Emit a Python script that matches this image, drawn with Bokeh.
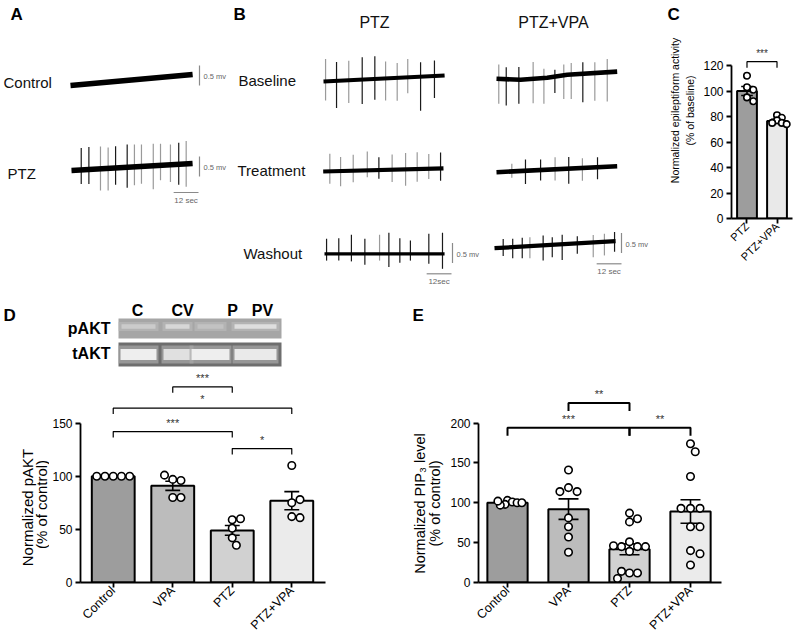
import math
import numpy as np
from bokeh.plotting import figure
from bokeh.models import Range1d, Label, FixedTicker
from bokeh.layouts import column, row
from bokeh.embed import file_html
from bokeh.resources import INLINE

FONT = "Liberation Sans"

# ---------------- Panels A / B : traces (time in s, voltage in mV) ----------------
a_ctrl_base_t = [0.0, 59.0]
a_ctrl_base_v = [0.0, 0.275]
a_ctrl_spk_t = []
a_ctrl_spk_up = []
a_ctrl_spk_dn = []
a_ctrl_spk_dark = []

a_ptz_base_t = [0.0, 58.5]
a_ptz_base_v = [0.0, 0.175]
a_ptz_spk_t = [4.7, 8.4, 14.0, 17.7, 21.3, 26.9, 30.4, 33.8, 39.5, 43.0, 47.8, 51.8, 55.4]
a_ptz_spk_up = [0.55, 0.56, 0.56, 0.52, 0.54, 0.57, 0.56, 0.55, 0.55, 0.54, 0.51, 0.54, 0.57]
a_ptz_spk_dn = [0.35, 0.36, 0.54, 0.55, 0.42, 0.51, 0.46, 0.43, 0.59, 0.37, 0.43, 0.51, 0.57]
a_ptz_spk_dark = [1, 1, 0, 0, 1, 1, 0, 0, 0, 0, 0, 1, 0]

b_ptz_bl_base_t = [0.0, 58.5]
b_ptz_bl_base_v = [0.0, 0.15]
b_ptz_bl_spk_t = [1.0, 6.3, 12.2, 18.7, 24.8, 30.0, 35.6, 40.7, 46.9, 53.6]
b_ptz_bl_spk_up = [0.56, 0.47, 0.49, 0.56, 0.57, 0.42, 0.37, 0.46, 0.36, 0.39]
b_ptz_bl_spk_dn = [0.48, 0.68, 0.57, 0.61, 0.52, 0.55, 0.57, 0.40, 0.85, 0.55]
b_ptz_bl_spk_dark = [0, 1, 0, 1, 1, 0, 0, 0, 1, 1]

b_pv_bl_base_t = [0.0, 11.6, 24.5, 34.2, 58.3]
b_pv_bl_base_v = [0.0, -0.025, 0.025, 0.1, 0.18]
b_pv_bl_spk_t = [1.1, 4.7, 10.8, 17.7, 22.9, 28.2, 32.5, 36.1, 41.7, 47.5, 53.5]
b_pv_bl_spk_up = [0.36, 0.30, 0.32, 0.42, 0.23, 0.17, 0.27, 0.29, 0.29, 0.27, 0.33]
b_pv_bl_spk_dn = [0.62, 0.66, 0.60, 0.61, 0.64, 0.41, 0.59, 0.61, 0.71, 0.69, 0.73]
b_pv_bl_spk_dark = [0, 1, 1, 0, 0, 1, 0, 0, 1, 0, 0]

b_ptz_tr_base_t = [0.0, 58.1]
b_ptz_tr_base_v = [0.0, 0.08]
b_ptz_tr_spk_t = [3.2, 8.4, 14.5, 21.3, 26.9, 33.3, 39.8, 45.4, 51.0, 56.7]
b_ptz_tr_spk_up = [0.44, 0.35, 0.40, 0.47, 0.32, 0.38, 0.41, 0.42, 0.37, 0.40]
b_ptz_tr_spk_dn = [0.31, 0.38, 0.29, 0.17, 0.22, 0.31, 0.41, 0.32, 0.26, 0.31]
b_ptz_tr_spk_dark = [0, 0, 0, 0, 1, 0, 0, 0, 0, 1]

b_pv_tr_base_t = [0.0, 58.3]
b_pv_tr_base_v = [0.0, 0.15]
b_pv_tr_spk_t = [7.4, 14.0, 21.3, 28.3, 34.9, 41.5, 48.8]
b_pv_tr_spk_up = [0.19, 0.28, 0.26, 0.30, 0.29, 0.24, 0.25]
b_pv_tr_spk_dn = [0.16, 0.33, 0.26, 0.28, 0.38, 0.32, 0.30]
b_pv_tr_spk_dark = [0, 1, 1, 0, 1, 0, 1]

b_ptz_wo_base_t = [0.0, 58.0]
b_ptz_wo_base_v = [0.0, 0.0]
b_ptz_wo_spk_t = [1.0, 6.9, 13.0, 19.5, 26.6, 31.1, 36.4, 41.5, 50.4, 57.0]
b_ptz_wo_spk_up = [0.375, 0.39, 0.475, 0.375, 0.475, 0.525, 0.39, 0.33, 0.5, 0.525]
b_ptz_wo_spk_dn = [0.17, 0.17, 0.19, 0.275, 0.17, 0.33, 0.225, 0.17, 0.25, 0.375]
b_ptz_wo_spk_dark = [1, 1, 1, 1, 0, 1, 1, 1, 1, 1]

b_pv_wo_base_t = [0.0, 58.5]
b_pv_wo_base_v = [0.0, 0.175]
b_pv_wo_spk_t = [4.2, 8.8, 13.4, 17.1, 23.5, 27.9, 32.7, 40.0, 47.7, 53.1, 58.0]
b_pv_wo_spk_up = [0.22, 0.21, 0.22, 0.22, 0.25, 0.19, 0.24, 0.18, 0.19, 0.20, 0.23]
b_pv_wo_spk_dn = [0.21, 0.28, 0.29, 0.30, 0.38, 0.31, 0.39, 0.26, 0.37, 0.34, 0.26]
b_pv_wo_spk_dark = [1, 1, 1, 0, 1, 1, 1, 1, 0, 0, 1]

scale_mv = 0.5
scale_s = 12

# ---------------- Panel C ----------------
c_groups = ["PTZ", "PTZ+VPA"]
c_mean = [100, 76.5]
c_sem = [3.5, 1.3]
c_ptz_pts = [112, 103, 101, 95, 92]
c_pv_pts = [81, 79, 77, 75, 75, 74]
c_sig_x1 = [1]
c_sig_x2 = [2]
c_sig_y = [123]
c_sig_txt = ["***"]
c_yticks = [0, 20, 40, 60, 80, 100, 120]
c_ylabel = ["Normalized epileptiform activity", "(% of baseline)"]

# ---------------- Panel D ----------------
groups = ["Control", "VPA", "PTZ", "PTZ+VPA"]
d_mean = [100, 91, 49, 77]
d_sem = [0.4, 4.3, 4.6, 8.5]
d_ctrl_pts = [100, 100, 100, 100, 100]
d_vpa_pts = [97, 96, 101, 80, 80]
d_ptz_pts = [59, 60, 51, 42, 35]
d_pv_pts = [110, 75, 78, 62, 61]
d_sig_x1 = [2, 1, 1, 3]
d_sig_x2 = [3, 4, 3, 4]
d_sig_y = [184, 164, 142, 126]
d_sig_txt = ["***", "*", "***", "*"]
d_yticks = [0, 50, 100, 150]
d_ylabel = ["Normalized pAKT", "(% of control)"]
blot_lanes = ["C", "CV", "P", "PV"]
pakt_band_level = [0.55, 0.72, 0.42, 0.82]
takt_band_level = [0.95, 0.85, 0.95, 0.92]

# ---------------- Panel E ----------------
e_mean = [100, 92, 41.6, 89]
e_sem = [1.3, 12.8, 6.8, 14.7]
e_ctrl_pts = [103, 101, 98, 97, 100, 102, 100]
e_vpa_pts = [141, 119, 114, 114, 81, 70, 57, 38]
e_ptz_pts = [87, 80, 76, 51, 45, 45, 45, 46, 39, 12, 12, 14, 5]
e_pv_pts = [174, 164, 133, 93, 93, 93, 70, 70, 40, 36, 22]
e_sig_x1 = [2, 1, 3]
e_sig_x2 = [3, 3, 4]
e_sig_y = [225, 194, 194]
e_sig_txt = ["**", "***", "**"]
e_yticks = [0, 50, 100, 150, 200]
e_ylabel = ["Normalized PIP\u2083 level", "(% of control)"]

bar_colors4 = ["#9d9d9d", "#bcbcbc", "#d1d1d1", "#ebebeb"]
bar_colors2 = ["#9d9d9d", "#e9e9e9"]


def mkfig(**kw):
    f = figure(output_backend="svg", toolbar_location=None, **kw)
    f.background_fill_color = "white"
    f.border_fill_color = "white"
    f.outline_line_color = None
    try:
        f.frame_align = False
    except Exception:
        pass
    return f


def blank(f):
    f.axis.visible = False
    f.grid.visible = False


def lab(p, x, y, text, size, bold=False, align="left", baseline="middle", color="#111111", angle=0):
    p.add_layout(Label(x=x, y=y, text=text, text_font=FONT, text_font_size=size,
                       text_font_style="bold" if bold else "normal", text_align=align,
                       text_baseline=baseline, text_color=color, angle=angle))


# ================= Figure A/B (page-pixel coordinates) =================
PXS = 2.07
PXMV = 40.0
pab = mkfig(width=660, height=290, x_range=Range1d(0, 660), y_range=Range1d(290, 0), min_border=0)
blank(pab)

trace_sets = [
    (a_ctrl_base_t, a_ctrl_base_v, a_ctrl_spk_t, a_ctrl_spk_up, a_ctrl_spk_dn, a_ctrl_spk_dark, 70, 85, 5.5),
    (a_ptz_base_t, a_ptz_base_v, a_ptz_spk_t, a_ptz_spk_up, a_ptz_spk_dn, a_ptz_spk_dark, 71, 170, 5.5),
    (b_ptz_bl_base_t, b_ptz_bl_base_v, b_ptz_bl_spk_t, b_ptz_bl_spk_up, b_ptz_bl_spk_dn, b_ptz_bl_spk_dark, 323, 81, 4.2),
    (b_pv_bl_base_t, b_pv_bl_base_v, b_pv_bl_spk_t, b_pv_bl_spk_up, b_pv_bl_spk_dn, b_pv_bl_spk_dark, 496, 78.3, 4.6),
    (b_ptz_tr_base_t, b_ptz_tr_base_v, b_ptz_tr_spk_t, b_ptz_tr_spk_up, b_ptz_tr_spk_dn, b_ptz_tr_spk_dark, 322.7, 171, 4.2),
    (b_pv_tr_base_t, b_pv_tr_base_v, b_pv_tr_spk_t, b_pv_tr_spk_up, b_pv_tr_spk_dn, b_pv_tr_spk_dark, 496, 171.7, 4.6),
    (b_ptz_wo_base_t, b_ptz_wo_base_v, b_ptz_wo_spk_t, b_ptz_wo_spk_up, b_ptz_wo_spk_dn, b_ptz_wo_spk_dark, 324, 253.3, 3.2),
    (b_pv_wo_base_t, b_pv_wo_base_v, b_pv_wo_spk_t, b_pv_wo_spk_up, b_pv_wo_spk_dn, b_pv_wo_spk_dark, 494, 247.7, 4.2),
]
for bt, bv, st, su, sd, sk, x0, y0, lw in trace_sets:
    if st:
        base_at = np.interp(st, bt, bv)
        sx = [x0 + t * PXS for t in st]
        yb = [y0 - b * PXMV for b in base_at]
        ytop = [y - u * PXMV for y, u in zip(yb, su)]
        ybot = [y + d * PXMV for y, d in zip(yb, sd)]
        cols = ["#1a1a1a" if k else "#9a9a9a" for k in sk]
        pab.segment(sx, ytop, sx, ybot, line_color=cols, line_width=1.2)
    pab.line([x0 + t * PXS for t in bt], [y0 - v * PXMV for v in bv], line_color="black",
             line_width=lw)

vbar_pos = [(199, 75), (199, 166), (452, 252.5), (621, 242.5)]
for vx, vy in vbar_pos:
    h = scale_mv * PXMV
    pab.segment([vx], [vy - h / 2], [vx], [vy + h / 2], line_color="#8a8a8a", line_width=1.2)
    lab(pab, vx + 4, vy + 1, f"{scale_mv} mv", "7.5px", color="#666666")
hbar_pos = [(198, 192, "12 sec"), (451, 273.3, "12sec"), (621, 263.3, "12 sec")]
for hx, hy, ht in hbar_pos:
    w = scale_s * PXS
    pab.segment([hx - w], [hy], [hx], [hy], line_color="#8a8a8a", line_width=1.2)
    lab(pab, hx - w / 2, hy + 3, ht, "8px", align="center", baseline="top", color="#666666")

lab(pab, 10, 14, "A", "17px", bold=True, color="black")
lab(pab, 233, 14, "B", "17px", bold=True, color="black")
lab(pab, 3, 82, "Control", "15px")
lab(pab, 7, 173, "PTZ", "15px")
lab(pab, 374, 22, "PTZ", "16px", align="center")
lab(pab, 553, 22, "PTZ+VPA", "16px", align="center")
lab(pab, 238, 80, "Baseline", "15px")
lab(pab, 237, 170, "Treatment", "15px")
lab(pab, 243, 253, "Washout", "15px")


# ================= helpers for bar panels =================
def style_axes(p, yticks, ybounds, xlabels, xlab_size):
    p.xgrid.visible = False
    p.ygrid.visible = False
    for ax in (p.xaxis[0], p.yaxis[0]):
        ax.axis_line_width = 1.8
        ax.axis_line_color = "black"
        ax.major_tick_line_width = 1.8
        ax.major_tick_line_color = "black"
        ax.major_tick_in = 0
        ax.major_tick_out = 5
        ax.minor_tick_line_color = None
        ax.major_label_text_font = FONT
        ax.major_label_text_color = "black"
    p.yaxis.ticker = FixedTicker(ticks=yticks)
    p.yaxis.bounds = ybounds
    p.yaxis.major_label_text_font_size = "12px"
    p.yaxis.major_label_standoff = 3
    p.xaxis.ticker = FixedTicker(ticks=list(range(1, len(xlabels) + 1)))
    p.xaxis.major_label_overrides = {i + 1: s for i, s in enumerate(xlabels)}
    p.xaxis.major_label_orientation = math.pi / 4
    p.xaxis.major_label_text_font_size = xlab_size
    p.xaxis.major_label_standoff = 1


def swarm(vals, center, ppx, ppy, diam):
    placed = []
    xs = []
    cands = [0.0]
    for i in range(1, 40):
        cands += [i * 0.5 * diam, -i * 0.5 * diam]
    for v in vals:
        y = v * ppy
        chosen = cands[-1]
        for dxp in cands:
            if all((dxp - px) ** 2 + (y - py) ** 2 >= (diam * 0.97) ** 2 for px, py in placed):
                chosen = dxp
                break
        placed.append((chosen, y))
        xs.append(center + chosen / ppx)
    return xs


def bar_panel(p, means, sems, pts_list, colors, width, ppx, ppy, cap_px, diams, size):
    xs = list(range(1, len(means) + 1))
    p.vbar(x=xs, top=means, bottom=0, width=width, fill_color=colors, line_color="black",
           line_width=2)
    lo = [m - s for m, s in zip(means, sems)]
    hi = [m + s for m, s in zip(means, sems)]
    p.segment(xs, lo, xs, hi, line_color="black", line_width=1.6)
    cw = cap_px / ppx / 2
    p.segment([x - cw for x in xs], hi, [x + cw for x in xs], hi, line_color="black", line_width=1.6)
    p.segment([x - cw for x in xs], lo, [x + cw for x in xs], lo, line_color="black", line_width=1.6)
    for x, pts, dm in zip(xs, pts_list, diams):
        px = swarm(pts, x, ppx, ppy, dm)
        p.scatter(px, pts, marker="circle", size=size, fill_color="white", line_color="black",
                  line_width=1.6)


def brackets(p, x1s, x2s, ys, txts, ppy, leg_px, lw, txt_size, gap_px):
    xs = [[a, a, b, b] for a, b in zip(x1s, x2s)]
    yy = [[y - leg_px / ppy, y, y, y - leg_px / ppy] for y in ys]
    p.multi_line(xs, yy, line_color="black", line_width=lw)
    for a, b, y, t in zip(x1s, x2s, ys, txts):
        lab(p, (a + b) / 2, y + gap_px / ppy, t, txt_size, align="center", baseline="bottom",
            color="#333333")


# ================= Panel C =================
plab_c = mkfig(width=40, height=290, x_range=Range1d(660, 700), y_range=Range1d(290, 0), min_border=0)
blank(plab_c)
lab(plab_c, 667, 14, "C", "17px", bold=True, color="black")
lab(plab_c, 674, 110, c_ylabel[0], "10.5px", align="center", angle=math.pi / 2, color="black")
lab(plab_c, 689, 110, c_ylabel[1], "10.5px", align="center", angle=math.pi / 2, color="black")

C_PPX, C_PPY = 31.0, 1.275
pc = mkfig(width=96, height=290, x_range=Range1d(1 + (729 - 745) / C_PPX, 1 + (792 - 745) / C_PPX),
           y_range=Range1d(0, 188 / C_PPY),
           min_border_left=29, min_border_right=4, min_border_top=30, min_border_bottom=72)
style_axes(pc, c_yticks, (0, 120), c_groups, "11px")
bar_panel(pc, c_mean, c_sem, [c_ptz_pts, c_pv_pts], bar_colors2, 0.66, C_PPX, C_PPY, 12,
          [6.5, 5.0], 6.5)
brackets(pc, c_sig_x1, c_sig_x2, c_sig_y, c_sig_txt, C_PPY, 6, 1.2, "10px", 3)

# ================= Panel D : blot (page-pixel coordinates) =================
pblot = mkfig(width=400, height=80, x_range=Range1d(0, 400), y_range=Range1d(370, 290), min_border=0)
blank(pblot)
pblot.quad(left=[118], right=[281], top=[318], bottom=[338], fill_color="#a6a6a6", line_color=None)
pblot.quad(left=[118], right=[281], top=[342], bottom=[366], fill_color="#6e6e6e", line_color=None)
lane_c = [138, 177, 210, 255]
lane_wp = [34, 24, 26, 42]
lane_wt = [36, 28, 38, 42]
for cx_, wp, wt, lp, lt in zip(lane_c, lane_wp, lane_wt, pakt_band_level, takt_band_level):
    g = int(166 + (235 - 166) * lp)
    pblot.rect(x=[cx_], y=[326], width=wp + 6, height=9, fill_color="#bdbdbd", line_color=None,
               fill_alpha=0.6)
    pblot.rect(x=[cx_], y=[326], width=wp, height=4.5, fill_color=f"#{g:02x}{g:02x}{g:02x}",
               line_color=None)
    g2 = int(110 + (245 - 110) * lt)
    pblot.rect(x=[cx_], y=[354], width=wt + 4, height=18, fill_color="#a8a8a8", line_color=None,
               fill_alpha=0.7)
    pblot.rect(x=[cx_], y=[354], width=wt, height=11, fill_color=f"#{g2:02x}{g2:02x}{g2:02x}",
               line_color=None)
lane_lab_x = [137, 182, 232, 262]
for lx, lt in zip(lane_lab_x, blot_lanes):
    lab(pblot, lx, 310, lt, "16px", bold=True, align="center", color="black")
lab(pblot, 110, 328, "pAKT", "16px", bold=True, align="right", color="black")
lab(pblot, 110, 353, "tAKT", "16px", bold=True, align="right", color="black")
lab(pblot, 3, 315, "D", "17px", bold=True, color="black")

# ================= Panel D : bars =================
plab_d = mkfig(width=49, height=270, x_range=Range1d(0, 49), y_range=Range1d(640, 370), min_border=0)
blank(plab_d)
lab(plab_d, 27, 507, d_ylabel[0], "15px", align="center", angle=math.pi / 2, color="black")
lab(plab_d, 41, 504, d_ylabel[1], "15px", align="center", angle=math.pi / 2, color="black")

D_PPX, D_PPY = 60.0, 1.073
pd_ = mkfig(width=351, height=270, x_range=Range1d(1 + (78 - 111) / D_PPX, 1 + (325 - 111) / D_PPX),
            y_range=Range1d(0, 214 / D_PPY),
            min_border_left=29, min_border_right=75, min_border_top=0, min_border_bottom=56)
style_axes(pd_, d_yticks, (0, 150), groups, "12.5px")
bar_panel(pd_, d_mean, d_sem, [d_ctrl_pts, d_vpa_pts, d_ptz_pts, d_pv_pts], bar_colors4, 0.72,
          D_PPX, D_PPY, 15, [8.3, 8.3, 8.3, 8.3], 7.5)
brackets(pd_, d_sig_x1, d_sig_x2, d_sig_y, d_sig_txt, D_PPY, 6, 1.2, "11px", 3)

# ================= Panel E =================
pe_top = mkfig(width=396, height=80, x_range=Range1d(400, 796), y_range=Range1d(370, 290), min_border=0)
blank(pe_top)
lab(pe_top, 412, 315, "E", "17px", bold=True, color="black")

plab_e = mkfig(width=46, height=270, x_range=Range1d(400, 446), y_range=Range1d(640, 370), min_border=0)
blank(plab_e)
lab(plab_e, 419, 503, e_ylabel[0], "14.5px", align="center", angle=math.pi / 2, color="black")
lab(plab_e, 434, 503, e_ylabel[1], "14.5px", align="center", angle=math.pi / 2, color="black")

E_PPX, E_PPY = 61.0, 0.805
pe = mkfig(width=350, height=270, x_range=Range1d(1 + (478 - 507) / E_PPX, 1 + (721 - 507) / E_PPX),
           y_range=Range1d(0, 214 / E_PPY),
           min_border_left=32, min_border_right=75, min_border_top=0, min_border_bottom=56)
style_axes(pe, e_yticks, (0, 200), groups, "12.5px")
bar_panel(pe, e_mean, e_sem, [e_ctrl_pts, e_vpa_pts, e_ptz_pts, e_pv_pts], bar_colors4, 0.66,
          E_PPX, E_PPY, 20, [4.8, 8.6, 8.0, 9.5], 7.5)
brackets(pe, e_sig_x1, e_sig_x2, e_sig_y, e_sig_txt, E_PPY, 8, 2.0, "11px", 3)

layout = column(
    row(pab, plab_c, pc),
    row(column(pblot, row(plab_d, pd_)), column(pe_top, row(plab_e, pe))),
)
open("out.html", "w").write(file_html(layout, INLINE, "figure"))
